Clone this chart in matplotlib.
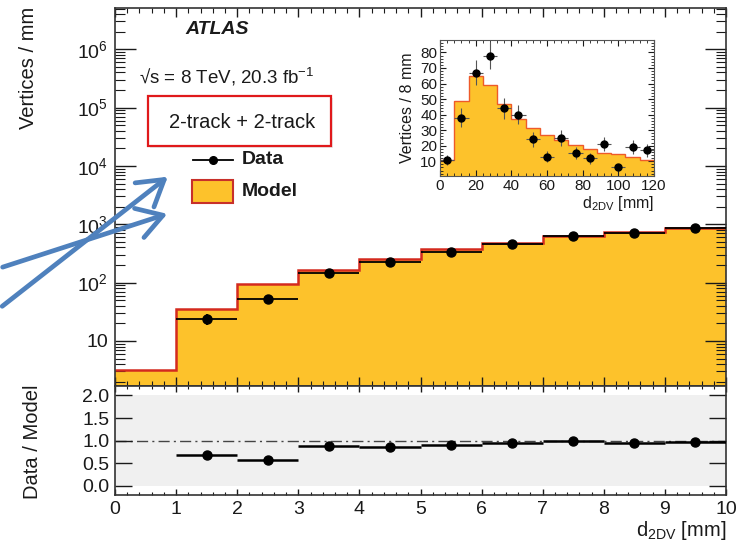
import numpy as np
import matplotlib
matplotlib.use("Agg")
import matplotlib.pyplot as plt
import matplotlib.transforms as mtrans
from matplotlib.ticker import LogLocator, NullFormatter, FixedLocator, FixedFormatter, MultipleLocator
from matplotlib.patches import Rectangle, FancyArrowPatch

plt.rcParams['font.family'] = ['Liberation Sans', 'DejaVu Sans']
plt.rcParams['mathtext.fontset'] = 'custom'
plt.rcParams['mathtext.rm'] = 'Liberation Sans'
plt.rcParams['mathtext.it'] = 'Liberation Sans:italic'
plt.rcParams['mathtext.bf'] = 'Liberation Sans:bold'

# ---------------- data ----------------
edges = [0, 1, 2, 3, 4, 5, 6, 7, 8, 9, 10]
model = [3.2, 35, 93, 163, 258, 371, 485, 630, 740, 875]
data_x = [1.5, 2.5, 3.5, 4.5, 5.5, 6.5, 7.5, 8.5, 9.5]
data_y = [24, 53, 147, 225, 337, 467, 620, 705, 850]
ratio = [0.69, 0.575, 0.885, 0.86, 0.90, 0.96, 1.00, 0.945, 0.975]
ratio_err = [0.09, 0.05, 0.03, 0.03, 0.03, 0.03, 0.03, 0.03, 0.03]

inset_edges = [0, 8, 16, 24, 32, 40, 48, 56, 64, 72, 80, 88, 96, 104, 112, 120]
inset_model = [11, 48.8, 65, 59, 47, 37, 31.7, 26.7, 23.5, 20.3, 17.7, 15.6, 14.5, 12.8, 10.6]
inset_x = [4, 12, 20, 28, 36, 44, 52, 60, 68, 76, 84, 92, 100, 108, 116]
inset_y = [10.5, 38, 67, 78, 44, 40, 24, 13, 25, 15, 12, 21, 6, 19, 17]

yticks_main = [10, 1e2, 1e3, 1e4, 1e5, 1e6]
yticklabels_main = ['10', r'$\mathregular{10^{2}}$', r'$\mathregular{10^{3}}$',
                    r'$\mathregular{10^{4}}$', r'$\mathregular{10^{5}}$', r'$\mathregular{10^{6}}$']
ratio_ticks = [0.0, 0.5, 1.0, 1.5, 2.0]
ratio_ticklabels = ['0.0', '0.5', '1.0', '1.5', '2.0']

YELLOW = '#FDC22B'
RED = '#D42A1E'
TXT = '#1a1a1a'
FS = 14

W, H = 743, 543
fig = plt.figure(figsize=(W / 100, H / 100), dpi=100)

def fx(px):
    return px / W

def fy(py):
    return 1 - py / H

# ---------------- main axes ----------------
ax = fig.add_axes([fx(115), fy(386), fx(726) - fx(115), fy(8) - fy(386)])
ax.stairs(model, edges, baseline=1e-3, fill=True, color=YELLOW, zorder=1)
ax.stairs(model, edges, baseline=None, color=RED, lw=1.8, zorder=2)
ax.errorbar(data_x, data_y, xerr=0.5, yerr=np.sqrt(data_y), fmt='o', color='black',
            ms=6.5, lw=1.3, capsize=0, zorder=3)
ax.set_yscale('log')
ax.set_xlim(0, 10)
ax.set_ylim(1.69, 5.1e6)
ax.yaxis.set_major_locator(FixedLocator(yticks_main))
ax.yaxis.set_major_formatter(FixedFormatter(yticklabels_main))
ax.yaxis.set_minor_locator(LogLocator(base=10, subs=np.arange(2, 10), numticks=30))
ax.yaxis.set_minor_formatter(NullFormatter())
ax.xaxis.set_major_locator(MultipleLocator(1))
ax.xaxis.set_minor_locator(MultipleLocator(0.2))
ax.tick_params(which='both', direction='in', top=True, right=True, labelbottom=False,
               colors=TXT, labelsize=FS)
ax.tick_params(axis='y', which='major', length=15, width=1, pad=5)
ax.tick_params(axis='y', which='minor', length=7, width=0.8)
ax.tick_params(axis='x', which='major', length=6.5, width=1)
ax.tick_params(axis='x', which='minor', length=3.5, width=0.8)
for s in ax.spines.values():
    s.set_linewidth(1.2)
    s.set_color('#333333')

# ---------------- ratio axes ----------------
rax = fig.add_axes([fx(115), fy(495), fx(726) - fx(115), fy(386) - fy(495)])
rax.axhspan(0, 2, color='#F0F0F0', zorder=0, lw=0)
rax.axhline(1.0, color='#444444', lw=1, ls=(0, (8, 3, 1.5, 3)), zorder=1)
rax.errorbar(data_x, ratio, xerr=0.5, yerr=ratio_err, fmt='o', color='black',
             ms=6.5, lw=1.8, capsize=0, zorder=3)
rax.set_xlim(0, 10)
rax.set_ylim(-0.2, 2.21)
rax.yaxis.set_major_locator(FixedLocator(ratio_ticks))
rax.yaxis.set_major_formatter(FixedFormatter(ratio_ticklabels))
rax.xaxis.set_major_locator(MultipleLocator(1))
rax.xaxis.set_minor_locator(MultipleLocator(0.2))
rax.tick_params(which='both', direction='in', top=True, right=True, colors=TXT, labelsize=FS)
rax.tick_params(axis='y', which='major', length=12, width=1, pad=4)
rax.tick_params(axis='x', which='major', length=4.5, width=1, pad=4)
rax.tick_params(axis='x', which='minor', length=2.5, width=0.8)
for s in rax.spines.values():
    s.set_linewidth(1.2)
    s.set_color('#333333')

# ---------------- labels ----------------
fig.text(fx(28), fy(7), 'Vertices / mm', rotation=90, ha='center', va='top', fontsize=14.5, color=TXT)
fig.text(fx(33), fy(442), 'Data / Model', rotation=90, ha='center', va='center', fontsize=14.5, color=TXT)
fig.text(fx(726), fy(530), r'd$_{\mathregular{2DV}}$ [mm]', ha='right', va='center', fontsize=14.5, color=TXT)

fig.text(fx(185), fy(30), 'ATLAS', fontsize=14, fontweight='bold', fontstyle='italic',
         ha='left', va='center', color=TXT)
fig.text(fx(139), fy(77), '√s = 8 TeV, 20.3 fb' + r'$\mathregular{^{-1}}$', fontsize=13.5,
         ha='left', va='center', color=TXT)

# red box
fig.patches.append(Rectangle((fx(150), fy(148)), fx(331) - fx(148), fy(96) - fy(146),
                             transform=fig.transFigure, facecolor='#DDDDDD', edgecolor='none',
                             alpha=0.6, zorder=4))
fig.patches.append(Rectangle((fx(148), fy(146)), fx(331) - fx(148), fy(96) - fy(146),
                             transform=fig.transFigure, facecolor='white', edgecolor='#E0191B',
                             lw=1.6, zorder=5))
fig.text(fx(242), fy(122), '2-track + 2-track', fontsize=14.5, ha='center', va='center',
         color=TXT, zorder=6)

# legend
fig.lines.append(plt.Line2D([fx(193), fx(233)], [fy(160), fy(160)], transform=fig.transFigure,
                            color='black', lw=1.3, marker=None))
fig.lines.append(plt.Line2D([fx(213)], [fy(160)], transform=fig.transFigure,
                            color='black', marker='o', ms=5.5, ls='none'))
fig.text(fx(242), fy(160), 'Data', fontsize=14, fontweight='bold', ha='left', va='center', color=TXT)
fig.patches.append(Rectangle((fx(192), fy(203)), fx(233) - fx(192), fy(180) - fy(203),
                             transform=fig.transFigure, facecolor=YELLOW, edgecolor='#C8302A',
                             lw=1.5, zorder=5))
fig.text(fx(242), fy(192), 'Model', fontsize=14, fontweight='bold', ha='left', va='center', color=TXT)

# ---------------- inset ----------------
iax = fig.add_axes([fx(440), fy(176), fx(654) - fx(440), fy(40) - fy(176)])
iax.stairs(inset_model, inset_edges, baseline=0, fill=True, color=YELLOW, zorder=1)
iax.stairs(inset_model, inset_edges, baseline=None, color='#EE5A2A', lw=1.0, zorder=2)
iax.errorbar(inset_x, inset_y, xerr=4, yerr=np.sqrt(inset_y), fmt='o', color='black',
             ecolor='#555555', ms=5, lw=0.8, capsize=0, zorder=3)
iax.set_xlim(0, 120)
iax.set_ylim(0.5, 88)
iax.xaxis.set_major_locator(MultipleLocator(20))
iax.xaxis.set_minor_locator(MultipleLocator(4))
iax.yaxis.set_major_locator(FixedLocator([10, 20, 30, 40, 50, 60, 70, 80]))
iax.yaxis.set_minor_locator(MultipleLocator(2))
iax.tick_params(which='both', direction='in', top=True, right=True, colors=TXT, labelsize=11)
iax.tick_params(which='major', length=4, width=0.8, pad=2)
iax.tick_params(which='minor', length=2, width=0.6)
for s in iax.spines.values():
    s.set_linewidth(0.8)
    s.set_color('#555555')
iax.text(fx(407), 0.5, 'Vertices / 8 mm', rotation=90,
         transform=mtrans.blended_transform_factory(fig.transFigure, iax.transAxes),
         ha='center', va='center', fontsize=11.5, color=TXT)
iax.text(1.0, fy(213), r'd$_{\mathregular{2DV}}$ [mm]',
         transform=mtrans.blended_transform_factory(iax.transAxes, fig.transFigure),
         ha='right', va='bottom', fontsize=11.5, color=TXT)

# ---------------- blue annotation arrows ----------------
BLUE = '#4F81BD'
for (x0, y0), (x1, y1) in [((0, 308), (170, 175)), ((0, 268), (170, 213))]:
    arr = FancyArrowPatch((fx(x0), fy(y0)), (fx(x1), fy(y1)), transform=fig.transFigure,
                          arrowstyle='->,head_length=0.9,head_width=0.55', mutation_scale=20,
                          color=BLUE, lw=3.4, zorder=10, capstyle='round', joinstyle='round')
    fig.patches.append(arr)

fig.savefig('out.png', dpi=100)
